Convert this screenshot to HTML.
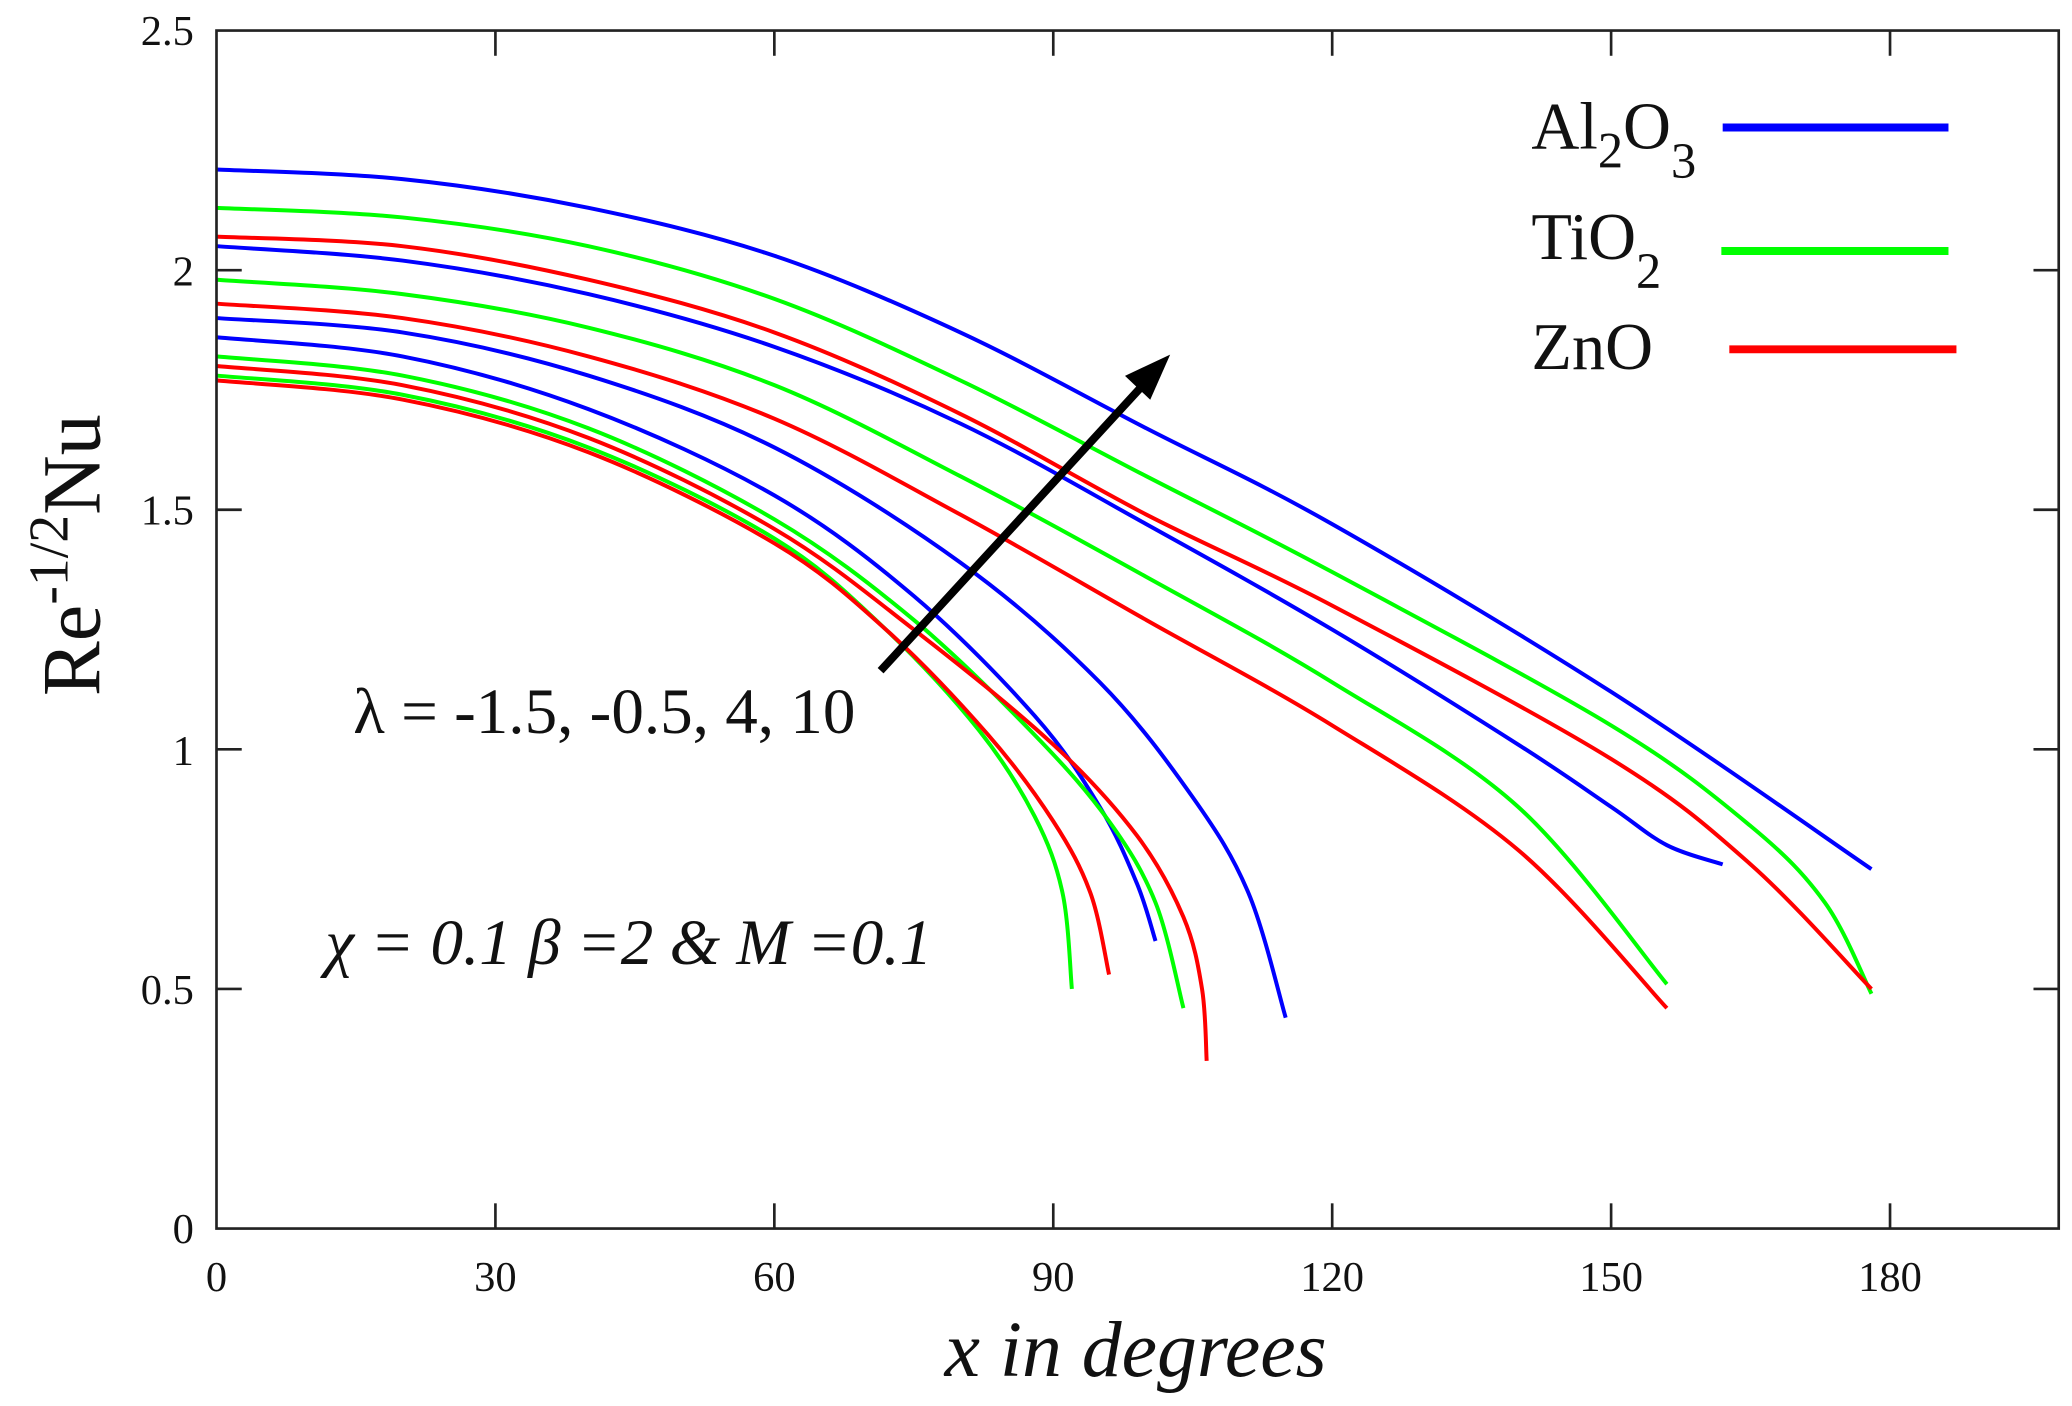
<!DOCTYPE html>
<html><head><meta charset="utf-8"><style>
html,body{margin:0;padding:0;background:#fff;}
svg{display:block;}
text{font-family:"Liberation Serif","DejaVu Serif",serif;fill:#111;}
</style></head><body>
<svg id="s" width="2072" height="1406" viewBox="0 0 1560 1058.6" preserveAspectRatio="none" xmlns="http://www.w3.org/2000/svg">
<rect x="0" y="0" width="1560" height="1059" fill="#fff"/>
<g id="curves" fill="none" stroke-width="3"></g>
<rect x="163" y="23" width="1387" height="902" fill="none" stroke="#222" stroke-width="2"/>
<g id="ticks" stroke="#222" stroke-width="2"></g>
<g font-size="32" text-anchor="middle">
<text x="163" y="972">0</text><text x="373" y="972">30</text><text x="583" y="972">60</text><text x="793" y="972">90</text><text x="1003" y="972">120</text><text x="1213" y="972">150</text><text x="1423" y="972">180</text>
</g>
<g font-size="32" text-anchor="end">
<text x="146" y="936">0</text><text x="146" y="756">0.5</text><text x="146" y="576">1</text><text x="146" y="395">1.5</text><text x="146" y="215">2</text><text x="146" y="34">2.5</text>
</g>
<text x="855" y="1036" font-size="60" font-style="italic" text-anchor="middle">x in degrees</text>
<text transform="translate(75,418) rotate(-90)" font-size="62" text-anchor="middle">Re<tspan font-size="42" dy="-24">-1/2</tspan><tspan dy="24">Nu</tspan></text>
<text x="266" y="552" font-size="49">λ = -1.5, -0.5, 4, 10</text>
<text x="245" y="726" font-size="49" font-style="italic">χ = 0.1 β =2 &amp; M =0.1</text>
<g font-size="50">
<text x="1153" y="112">Al<tspan font-size="38" dy="14">2</tspan><tspan font-size="50" dy="-14">O</tspan><tspan font-size="38" dy="22">3</tspan></text>
<text x="1153" y="195">TiO<tspan font-size="38" dy="22">2</tspan></text>
<text x="1153" y="278">ZnO</text>
</g>
<line x1="1297" y1="96" x2="1467" y2="96" stroke="#0000ff" stroke-width="6"/>
<line x1="1296" y1="189" x2="1467" y2="189" stroke="#00ff00" stroke-width="6"/>
<line x1="1302" y1="263" x2="1473" y2="263" stroke="#ff0000" stroke-width="6"/>
<line x1="663" y1="505" x2="866" y2="284" stroke="#000" stroke-width="6"/>
<polygon points="881,267 847,283 866,301" fill="#000"/>
</svg>
<script>
var X=function(d){return 163+d*7},Y=function(v){return 925-v*360.8};
var data=[
["#00f",[[0,2.21],[20,2.19],[40,2.13],[60,2.03],[80,1.87],[100,1.67],[120,1.47],[150,1.12],[178,0.75]]],
["#00f",[[0,2.05],[20,2.02],[40,1.95],[60,1.84],[80,1.68],[100,1.47],[120,1.25],[140,1.01],[150,0.88],[156,0.80],[162,0.76]]],
["#00f",[[0,1.9],[20,1.87],[40,1.78],[60,1.63],[80,1.39],[95,1.14],[105,0.90],[111,0.70],[115,0.44]]],
["#00f",[[0,1.86],[20,1.82],[40,1.71],[60,1.53],[75,1.32],[88,1.07],[95,0.88],[99,0.72],[101,0.6]]],
["#0f0",[[0,2.13],[20,2.11],[40,2.05],[60,1.94],[80,1.77],[100,1.57],[120,1.37],[150,1.05],[165,0.84],[173,0.68],[178,0.49]]],
["#0f0",[[0,1.98],[20,1.95],[40,1.88],[60,1.76],[80,1.57],[100,1.36],[120,1.14],[140,0.88],[156,0.51]]],
["#0f0",[[0,1.82],[20,1.78],[40,1.67],[60,1.48],[75,1.27],[88,1.03],[96,0.85],[101,0.68],[104,0.46]]],
["#0f0",[[0,1.78],[20,1.74],[40,1.63],[60,1.44],[72,1.25],[82,1.04],[88,0.86],[91,0.70],[92,0.5]]],
["#f00",[[0,2.07],[20,2.05],[40,1.98],[60,1.87],[80,1.70],[100,1.49],[120,1.30],[150,0.98],[165,0.76],[178,0.5]]],
["#f00",[[0,1.93],[20,1.90],[40,1.82],[60,1.69],[80,1.49],[100,1.27],[120,1.05],[140,0.79],[156,0.46]]],
["#f00",[[0,1.80],[20,1.76],[40,1.65],[60,1.46],[75,1.25],[90,1.01],[99,0.82],[104,0.65],[106,0.5],[106.5,0.35]]],
["#f00",[[0,1.77],[20,1.73],[40,1.62],[60,1.43],[72,1.25],[83,1.03],[90,0.85],[94,0.70],[96,0.53]]]
];
var g=document.getElementById('curves'),ns="http://www.w3.org/2000/svg";
data.forEach(function(c){
 var p=c[1].map(function(q){return [X(q[0]),Y(q[1])]});
 var d="M"+p[0][0]+","+p[0][1];
 for(var i=0;i<p.length-1;i++){
  var p0=p[i-1]||p[i],p1=p[i],p2=p[i+1],p3=p[i+2]||p[i+1];
  d+=" C"+(p1[0]+(p2[0]-p0[0])/6)+","+(p1[1]+(p2[1]-p0[1])/6)+" "+(p2[0]-(p3[0]-p1[0])/6)+","+(p2[1]-(p3[1]-p1[1])/6)+" "+p2[0]+","+p2[1];
 }
 var e=document.createElementNS(ns,"path");e.setAttribute("d",d);e.setAttribute("stroke",c[0]);g.appendChild(e);
});
var t=document.getElementById('ticks');
function L(a,b,c,d){var e=document.createElementNS(ns,"line");e.setAttribute("x1",a);e.setAttribute("y1",b);e.setAttribute("x2",c);e.setAttribute("y2",d);t.appendChild(e);}
for(var k=30;k<=180;k+=30){var x=X(k);L(x,925,x,906);L(x,23,x,42);}
for(var v=0.5;v<2.5;v+=0.5){var y=Y(v);L(163,y,182,y);L(1550,y,1531,y);}
</script>
</body></html>
